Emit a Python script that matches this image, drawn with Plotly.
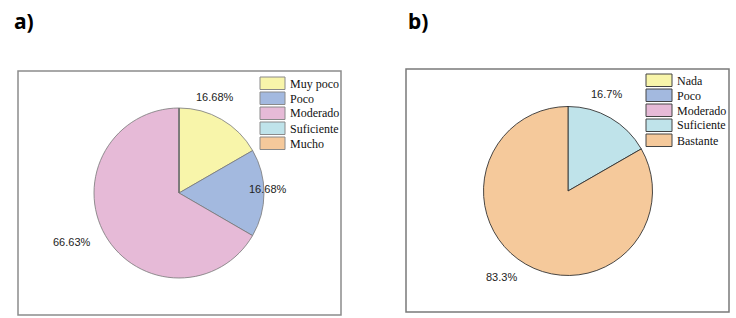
import plotly.graph_objects as go

W, H = 736, 318

# ---- data ----
cats_a = ["Muy poco", "Poco", "Moderado", "Suficiente", "Mucho"]
vals_a = [16.68, 16.68, 66.63, 0, 0]
labels_a = ["16.68%", "16.68%", "66.63%", "", ""]

cats_b = ["Nada", "Poco", "Moderado", "Suficiente", "Bastante"]
vals_b = [0, 0, 0, 16.7, 83.3]
labels_b = ["", "", "", "16.7%", "83.3%"]

colors = ["#F8F5AA", "#A3B9DF", "#E6BAD7", "#BFE3EA", "#F5C99B"]

# ---- layout helpers (pixel -> paper) ----
def px(x):
    return x / W

def py(y):
    return 1 - y / H

fig = go.Figure()

# pie a
ca, ra = (179, 193), 85
fig.add_trace(go.Pie(
    labels=cats_a, values=vals_a, sort=False, direction="clockwise", rotation=0,
    marker=dict(colors=colors, line=dict(color="#777777", width=0.8)),
    textinfo="none", hoverinfo="label+percent", showlegend=False,
    domain=dict(x=[px(ca[0] - ra), px(ca[0] + ra)], y=[py(ca[1] + ra), py(ca[1] - ra)]),
))
# pie b
cb, rb = (568, 191), 84.5
fig.add_trace(go.Pie(
    labels=cats_b, values=vals_b, sort=False, direction="clockwise", rotation=0,
    marker=dict(colors=colors, line=dict(color="#333333", width=0.9)),
    textinfo="none", hoverinfo="label+percent", showlegend=False,
    domain=dict(x=[px(cb[0] - rb), px(cb[0] + rb)], y=[py(cb[1] + rb), py(cb[1] - rb)]),
))

shapes = []
annotations = []

# panel frames
shapes.append(dict(type="rect", xref="paper", yref="paper",
                   x0=px(18), x1=px(341), y0=py(315), y1=py(71),
                   line=dict(color="#8c8c8c", width=1.5), fillcolor="rgba(0,0,0,0)"))
shapes.append(dict(type="rect", xref="paper", yref="paper",
                   x0=px(406), x1=px(729), y0=py(312), y1=py(69),
                   line=dict(color="#7a7a7a", width=1.5), fillcolor="rgba(0,0,0,0)"))

# legends
def add_legend(cats, x0, y0, sw, border):
    for i, (c, col) in enumerate(zip(cats, colors)):
        top = y0 + i * 15
        shapes.append(dict(type="rect", xref="paper", yref="paper",
                           x0=px(x0), x1=px(x0 + sw), y0=py(top + 12.5), y1=py(top),
                           line=dict(color=border, width=1), fillcolor=col))
        annotations.append(dict(x=px(x0 + sw + 2.5), y=py(top + 6.5), xref="paper", yref="paper",
                                text=c, showarrow=False, xanchor="left", yanchor="middle",
                                font=dict(family="Liberation Serif", size=12, color="#111")))

add_legend(cats_a, 260, 77, 25, "#8a8a8a")
add_legend(cats_b, 646, 74, 26, "#444444")

# slice labels
lab_pos_a = [(215, 97), (268, 189), (72, 242), None, None]
lab_pos_b = [None, None, None, (606, 94), (501, 277)]
for labs, poss in ((labels_a, lab_pos_a), (labels_b, lab_pos_b)):
    for t, p in zip(labs, poss):
        if p and t:
            annotations.append(dict(x=px(p[0]), y=py(p[1]), xref="paper", yref="paper",
                                    text=t, showarrow=False, xanchor="center", yanchor="middle",
                                    font=dict(family="Liberation Sans", size=11, color="#222")))

# panel titles
for t, x in (("a)", 12), ("b)", 406)):
    annotations.append(dict(x=px(x), y=py(21), xref="paper", yref="paper",
                            text="<b>" + t + "</b>", showarrow=False, xanchor="left", yanchor="middle",
                            font=dict(family="Noto Sans", size=21, color="#000")))

fig.update_layout(
    width=W, height=H,
    margin=dict(l=0, r=0, t=0, b=0),
    paper_bgcolor="white", plot_bgcolor="white",
    shapes=shapes, annotations=annotations,
)

fig.write_html("out.html", config={"displayModeBar": False},
               post_script="document.body.style.margin='0px';document.body.style.overflow='hidden';")
